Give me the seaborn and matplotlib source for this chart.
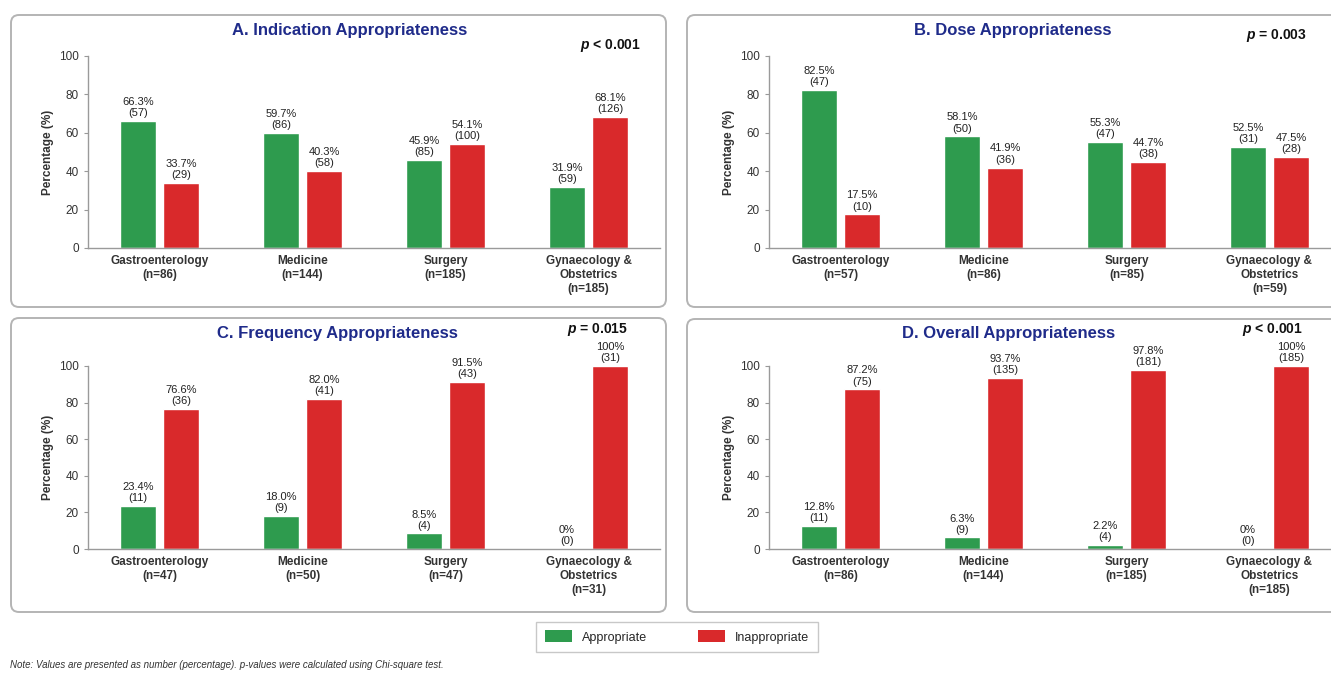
import pandas as pd
import seaborn as sns
import matplotlib.pyplot as plt
from matplotlib.patches import FancyBboxPatch, Patch

sns.set_style("white")
plt.rcParams['font.family'] = ['Liberation Sans', 'DejaVu Sans']
plt.rcParams['mathtext.fontset'] = 'custom'
plt.rcParams['mathtext.bfit'] = 'Liberation Sans:italic:bold'

# Shared categories
departments = ["Gastroenterology", "Medicine", "Surgery", "Gynaecology &\nObstetrics"]
groups = ["Appropriate", "Inappropriate"]
palette = {"Appropriate": "#2e9b4e", "Inappropriate": "#d9292b"}

# A. Indication appropriateness
ind_total = [86, 144, 185, 185]
ind_app_pct = [66.3, 59.7, 45.9, 31.9]
ind_app_cnt = [57, 86, 85, 59]
ind_inapp_pct = [33.7, 40.3, 54.1, 68.1]
ind_inapp_cnt = [29, 58, 100, 126]

# B. Dose appropriateness
dose_total = [57, 86, 85, 59]
dose_app_pct = [82.5, 58.1, 55.3, 52.5]
dose_app_cnt = [47, 50, 47, 31]
dose_inapp_pct = [17.5, 41.9, 44.7, 47.5]
dose_inapp_cnt = [10, 36, 38, 28]

# C. Frequency appropriateness
freq_total = [47, 50, 47, 31]
freq_app_pct = [23.4, 18.0, 8.5, 0]
freq_app_cnt = [11, 9, 4, 0]
freq_inapp_pct = [76.6, 82.0, 91.5, 100]
freq_inapp_cnt = [36, 41, 43, 31]

# D. Overall appropriateness
all_total = [86, 144, 185, 185]
all_app_pct = [12.8, 6.3, 2.2, 0]
all_app_cnt = [11, 9, 4, 0]
all_inapp_pct = [87.2, 93.7, 97.8, 100]
all_inapp_cnt = [75, 135, 181, 185]

titles = ["A. Indication Appropriateness", "B. Dose Appropriateness",
          "C. Frequency Appropriateness", "D. Overall Appropriateness"]
p_values = ["< 0.001", "= 0.003", "= 0.015", "< 0.001"]

panels = [
    (ind_total, ind_app_pct, ind_app_cnt, ind_inapp_pct, ind_inapp_cnt),
    (dose_total, dose_app_pct, dose_app_cnt, dose_inapp_pct, dose_inapp_cnt),
    (freq_total, freq_app_pct, freq_app_cnt, freq_inapp_pct, freq_inapp_cnt),
    (all_total, all_app_pct, all_app_cnt, all_inapp_pct, all_inapp_cnt),
]

W, H = 1331, 675
fig = plt.figure(figsize=(W / 100, H / 100), dpi=100)

# layout in pixels (from top-left): axes rects and panel boxes
axes_px = [(88, 56, 572, 192), (769, 56, 572, 192),
           (88, 366, 572, 183), (769, 366, 572, 183)]
boxes_px = [(11, 15, 655, 292), (687, 15, 660, 292),
            (11, 318, 655, 294), (687, 319, 660, 293)]
title_px = [(350, 30), (1013, 30), (337, 333), (1009, 333)]
pval_px = [(641, 46), (1307, 35), (628, 330), (1303, 330)]


def pct_label(v):
    return f"{v:.0f}%" if v in (0, 100) else f"{v:.1f}%"


for i, (total, a_pct, a_cnt, i_pct, i_cnt) in enumerate(panels):
    bx, by, bw, bh = boxes_px[i]
    fig.add_artist(FancyBboxPatch((bx / 100, (H - by - bh) / 100), bw / 100, bh / 100,
                                  boxstyle="round,pad=0,rounding_size=0.08",
                                  transform=fig.dpi_scale_trans, fc="white",
                                  ec="#b4b4b4", lw=1.4, zorder=0))

    ax_x, ax_y, ax_w, ax_h = axes_px[i]
    ax = fig.add_axes([ax_x / W, (H - ax_y - ax_h) / H, ax_w / W, ax_h / H])
    ax.patch.set_alpha(0)

    df = pd.DataFrame({
        "dept": departments * 2,
        "group": ["Appropriate"] * 4 + ["Inappropriate"] * 4,
        "pct": a_pct + i_pct,
    })
    sns.barplot(data=df, x="dept", y="pct", hue="group", order=departments,
                hue_order=groups, palette=palette, saturation=1, width=0.6,
                gap=0.15, legend=False, ax=ax)

    for cont, pcts, cnts in zip(ax.containers, [a_pct, i_pct], [a_cnt, i_cnt]):
        for bar, p, c in zip(cont, pcts, cnts):
            ax.text(bar.get_x() + bar.get_width() / 2, bar.get_height() + 1.5,
                    f"{pct_label(p)}\n({c})", ha="center", va="bottom",
                    fontsize=8, color="#222222", linespacing=1.15, clip_on=False)

    ax.set_ylim(0, 100)
    ax.set_yticks(range(0, 101, 20))
    ax.set_xlim(-0.5, 3.5)
    ax.set_xticks(range(4))
    ax.set_xticklabels([f"{d}\n(n={n})" for d, n in zip(departments, total)],
                       fontsize=8.5, fontweight="bold", color="#333333")
    ax.tick_params(axis="y", labelsize=8.5, left=True, length=3, color="#999999",
                   labelcolor="#333333")
    ax.tick_params(axis="x", length=0, pad=5)
    ax.set_xlabel("")
    ax.set_ylabel("Percentage (%)", fontsize=8.5, fontweight="bold", color="#333333")
    sns.despine(ax=ax)
    for s in ["left", "bottom"]:
        ax.spines[s].set_color("#9a9a9a")
        ax.spines[s].set_linewidth(1)

    tx, ty = title_px[i]
    fig.text(tx / W, 1 - ty / H, titles[i], ha="center", va="center",
             fontsize=12, fontweight="bold", color="#1f2b8a")
    px, py = pval_px[i]
    fig.text(px / W, 1 - py / H, r"$\mathbfit{p}$ " + p_values[i], ha="right",
             va="center", fontsize=10, fontweight="bold", color="#111111")

handles = [Patch(facecolor=palette[g], edgecolor="none") for g in groups]
fig.legend(handles, groups, loc="center", bbox_to_anchor=(677 / W, 1 - 637 / H),
           ncol=2, frameon=True, fancybox=False, edgecolor="#bbbbbb",
           fontsize=9, handlelength=2.2, handleheight=1.1, columnspacing=4,
           borderpad=0.7, shadow=False)

fig.text(10 / W, 1 - 665 / H,
         "Note: Values are presented as number (percentage). p-values were calculated using Chi-square test.",
         ha="left", va="center", fontsize=7, style="italic", color="#333333")

fig.savefig("out.png", dpi=100)
